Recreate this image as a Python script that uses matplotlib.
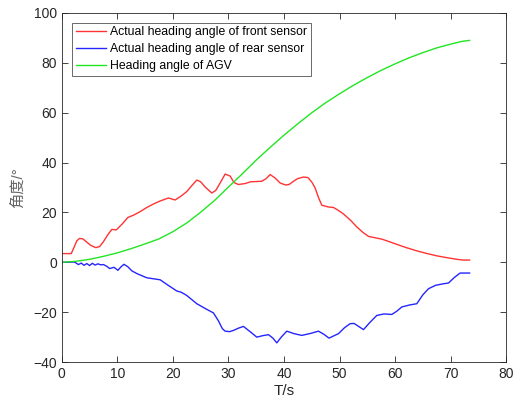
import numpy as np
import matplotlib
matplotlib.use("Agg")
import matplotlib.pyplot as plt

plt.rcParams['font.family'] = ['Liberation Sans', 'Noto Sans CJK SC', 'DejaVu Sans']

# front sensor (red)
front_t = [0, 1.7, 2.2, 2.7, 3.2, 3.8, 4.5, 5.2, 6.1, 6.8, 7.5, 8.2, 9.0, 9.8, 10.8, 11.9,
           13.0, 14.0, 15.3, 16.5, 17.7, 19.2, 20.4, 21.5, 22.5, 23.5, 24.3, 25.0, 25.8,
           27.0, 27.7, 28.5, 29.4, 30.3, 31.0, 31.8, 33.0, 34.0, 36.0, 36.8, 37.5, 38.4,
           39.3, 40.3, 40.9, 41.7, 42.5, 43.5, 44.3, 45.0, 45.6, 46.2, 46.8, 48.0, 48.9,
           49.8, 50.7, 52.0, 53.1, 54.2, 55.2, 56.5, 57.6, 58.8, 60.3, 62.0, 63.9, 65.6,
           67.5, 69.5, 71.1, 72.3, 73.4]
front_v = [3.5, 3.5, 6.0, 8.6, 9.6, 9.4, 8.1, 6.8, 5.9, 6.3, 8.3, 10.8, 13.2, 13.0, 15.2, 18.0,
           19.0, 20.2, 22.0, 23.4, 24.6, 25.8, 25.0, 26.6, 28.4, 31.0, 33.0, 32.3, 30.2,
           27.8, 28.8, 31.8, 35.4, 34.6, 32.0, 31.2, 31.6, 32.3, 32.5, 33.6, 35.2, 33.8,
           31.8, 31.0, 31.2, 32.5, 33.6, 34.2, 34.0, 32.2, 29.8, 26.0, 22.9, 22.2, 22.0,
           20.8, 19.4, 16.8, 14.2, 12.0, 10.4, 9.8, 9.3, 8.4, 7.2, 5.9, 4.6, 3.6, 2.6,
           1.8, 1.2, 0.9, 0.9]

# rear sensor (blue)
rear_t = [0, 2.3, 3.0, 3.5, 4.0, 4.5, 5.0, 5.5, 6.0, 6.5, 7.0, 7.5, 8.1, 8.6, 9.4, 10.1,
          10.7, 11.2, 11.9, 12.6, 13.5, 15.3, 17.7, 19.0, 20.7, 21.5, 22.5, 24.3, 25.8,
          27.3, 28.2, 28.9, 29.4, 30.2, 30.9, 31.8, 32.7, 34.0, 35.1, 36.2, 37.2, 38.0,
          38.7, 39.5, 40.5, 41.8, 43.2, 44.8, 46.2, 47.2, 48.1, 49.8, 50.9, 51.9, 52.6,
          53.5, 54.3, 55.5, 56.7, 58.0, 59.4, 60.3, 61.2, 62.6, 63.9, 65.0, 66.0, 67.3,
          68.7, 69.6, 70.7, 71.7, 73.4]
rear_v = [0.0, 0.1, -0.9, -0.3, -1.2, -0.5, -1.3, -0.4, -1.1, -0.6, -1.0, -0.9, -1.6, -2.5, -2.0,
          -3.2, -1.7, -0.8, -1.8, -3.4, -4.5, -6.2, -7.0, -9.0, -11.5, -12.0, -13.3, -16.6,
          -18.5, -20.3, -23.5, -26.6, -27.6, -27.8, -27.3, -26.4, -25.7, -28.0, -30.0,
          -29.4, -29.0, -30.4, -32.3, -30.0, -27.6, -28.6, -29.3, -28.5, -27.6, -28.9,
          -30.4, -28.6, -26.2, -24.6, -24.5, -25.8, -27.0, -24.0, -21.3, -20.7, -20.9,
          -19.6, -17.9, -17.1, -16.6, -13.0, -10.6, -9.2, -8.6, -8.3, -6.0, -4.3, -4.3]

# AGV heading (green)
agv_t = [0, 2.5, 5.0, 7.5, 10.0, 12.5, 15.0, 17.5, 20.0, 22.5, 25.0, 27.5, 30.0, 32.5,
         35.0, 37.5, 40.0, 42.5, 45.0, 47.5, 50.0, 52.5, 55.0, 57.5, 60.0, 62.5, 65.0,
         67.5, 70.0, 72.0, 73.4]
agv_v = [0.0, 0.4, 1.2, 2.4, 3.8, 5.5, 7.4, 9.4, 12.3, 15.8, 20.1, 24.8, 30.2, 35.5,
         41.0, 46.1, 51.0, 55.6, 60.0, 64.0, 67.6, 71.0, 74.1, 77.0, 79.6, 82.0, 84.1,
         86.0, 87.5, 88.6, 89.0]

fig = plt.figure(figsize=(5.15, 4.05), dpi=100)
ax = fig.add_axes([0.120, 0.106, 0.863, 0.862])

ax.plot(front_t, front_v, color='#ff3333', lw=1.0, label='Actual heading angle of front sensor')
ax.plot(rear_t, rear_v, color='#2525ff', lw=1.0, label='Actual heading angle of rear sensor')
ax.plot(agv_t, agv_v, color='#22e622', lw=1.0, label='Heading angle of AGV')

ax.set_xlim(0, 80)
ax.set_ylim(-40, 100)
ax.set_xticks(np.arange(0, 81, 10))
ax.set_yticks(np.arange(-40, 101, 20))
ax.tick_params(direction='in', top=True, right=True, labelsize=10,
               colors='#262626', length=4, width=0.6)
for s in ax.spines.values():
    s.set_color('#262626')
    s.set_linewidth(0.6)

ax.set_xlabel('T/s', fontsize=11, color='#262626', labelpad=2)
ax.set_ylabel('角度/°', fontsize=11, color='#666666', labelpad=6)

leg = ax.legend(loc='upper left', fontsize=8.8, frameon=True, fancybox=False,
                edgecolor='#262626', handlelength=2.5, borderpad=0.3,
                labelspacing=0.4, handletextpad=0.3, borderaxespad=0,
                bbox_to_anchor=(0.023, 0.972))
leg.get_frame().set_linewidth(0.6)

fig.savefig('out.png', dpi=100)
